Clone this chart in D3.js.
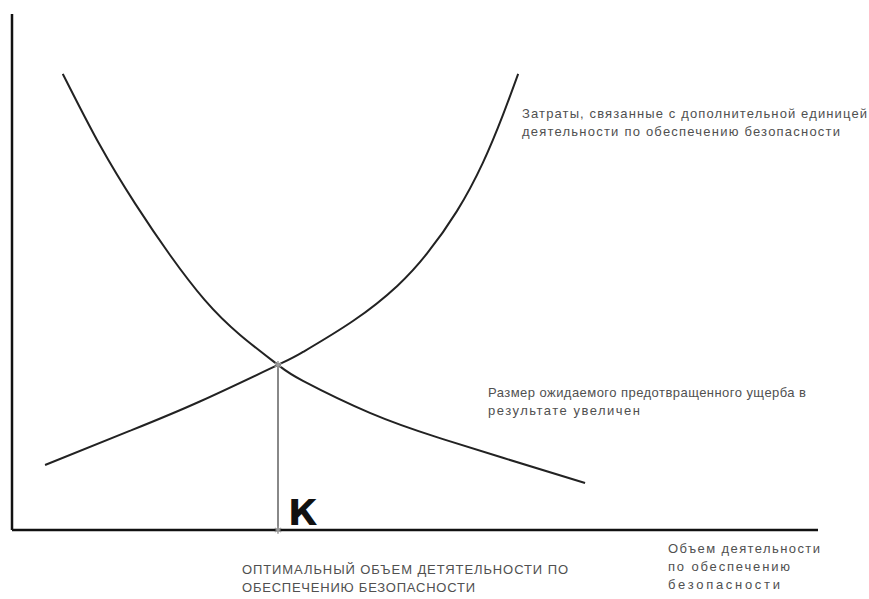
<!DOCTYPE html>
<html>
<head>
<meta charset="utf-8">
<script src="https://cdn.jsdelivr.net/npm/d3@7"></script>
<style>
  body { margin: 0; background: #fff; }
  svg text { font-family: "Liberation Sans", Arial, sans-serif; fill: #505050; }
</style>
</head>
<body>
<div id="chart"></div>
<script>
// Data (abstract units: activity volume 0..100, value 0..100)
var damageX = [6.3, 10.9, 15.3, 19.6, 23.9, 28.3, 33.0, 36.1, 44.4, 52.7, 60.9, 71.1];
var damageY = [88.4, 74.6, 63.2, 53.3, 44.6, 37.8, 32.0, 28.9, 22.7, 18.0, 14.0, 9.1];
var costX = [4.1, 14.6, 23.3, 33.0, 36.1, 42.3, 47.8, 51.5, 55.2, 58.4, 60.9, 62.8];
var costY = [12.6, 19.2, 24.9, 32.0, 34.5, 40.5, 47.3, 53.6, 61.8, 71.1, 80.4, 88.4];
var optimum = { x: 33.0, y: 32.0 };

var costLabel = ['Затраты, связанные с дополнительной единицей',
                 'деятельности по обеспечению безопасности'];
var damageLabel = ['Размер ожидаемого предотвращенного ущерба в',
                   'результате увеличен'];
var optimumLabel = ['ОПТИМАЛЬНЫЙ ОБЪЕМ ДЕТЯТЕЛЬНОСТИ ПО',
                    'ОБЕСПЕЧЕНИЮ БЕЗОПАСНОСТИ'];
var axisLabel = ['Объем деятельности', 'по обеспечению', 'безопасности'];
var pointLabel = 'К';

var width = 869, height = 599;

var x = d3.scaleLinear().domain([0, 100]).range([12, 818]);
var y = d3.scaleLinear().domain([0, 100]).range([530, 14]);

var svg = d3.select('#chart').append('svg')
    .attr('width', width)
    .attr('height', height);

var line = d3.line()
    .x(function (d) { return x(d[0]); })
    .y(function (d) { return y(d[1]); })
    .curve(d3.curveNatural);

// axes: plain lines, no ticks
svg.append('line')
    .attr('x1', x(0)).attr('x2', x(0))
    .attr('y1', y(0)).attr('y2', y(100))
    .attr('stroke', '#111').attr('stroke-width', 2.5);

svg.append('line')
    .attr('x1', x(0)).attr('x2', x(100))
    .attr('y1', y(0)).attr('y2', y(0))
    .attr('stroke', '#111').attr('stroke-width', 2.5);

// drop line from the intersection
svg.append('line')
    .attr('x1', x(optimum.x)).attr('x2', x(optimum.x))
    .attr('y1', y(optimum.y)).attr('y2', y(0))
    .attr('stroke', '#888').attr('stroke-width', 2);

// the two curves
svg.append('path')
    .datum(d3.zip(damageX, damageY))
    .attr('d', line)
    .attr('fill', 'none')
    .attr('stroke', '#222')
    .attr('stroke-width', 2);

svg.append('path')
    .datum(d3.zip(costX, costY))
    .attr('d', line)
    .attr('fill', 'none')
    .attr('stroke', '#222')
    .attr('stroke-width', 2);

// small markers at the intersection and on the axis
var marker = d3.symbol().type(d3.symbolAsterisk).size(40);
[[optimum.x, optimum.y], [optimum.x, 0]].forEach(function (p) {
  svg.append('path')
      .attr('d', marker)
      .attr('transform', 'translate(' + x(p[0]) + ',' + y(p[1]) + ')')
      .attr('fill', 'none')
      .attr('stroke', '#999')
      .attr('stroke-width', 1.5);
});

svg.append('text')
    .attr('x', x(optimum.x) + 10)
    .attr('y', y(0) - 5)
    .style('font-family', '"DejaVu Sans", sans-serif')
    .style('font-weight', 'bold')
    .style('font-size', '36px')
    .style('fill', '#111')
    .text(pointLabel);

// multi-line labels
function label(lines, px, py, lh, widths, size) {
  var t = svg.append('text')
      .attr('x', px).attr('y', py)
      .style('font-size', size + 'px');
  lines.forEach(function (s, i) {
    t.append('tspan')
        .attr('x', px)
        .attr('y', py + i * lh)
        .attr('textLength', widths[i])
        .attr('lengthAdjust', 'spacing')
        .text(s);
  });
}

label(costLabel, 522, 118, 18, [345, 318], 13);
label(damageLabel, 488, 397, 18, [318, 152], 13);
label(optimumLabel, 242, 574, 18, [326, 233], 13);
label(axisLabel, 668, 553, 18, [152, 122, 112], 13);
</script>
</body>
</html>
